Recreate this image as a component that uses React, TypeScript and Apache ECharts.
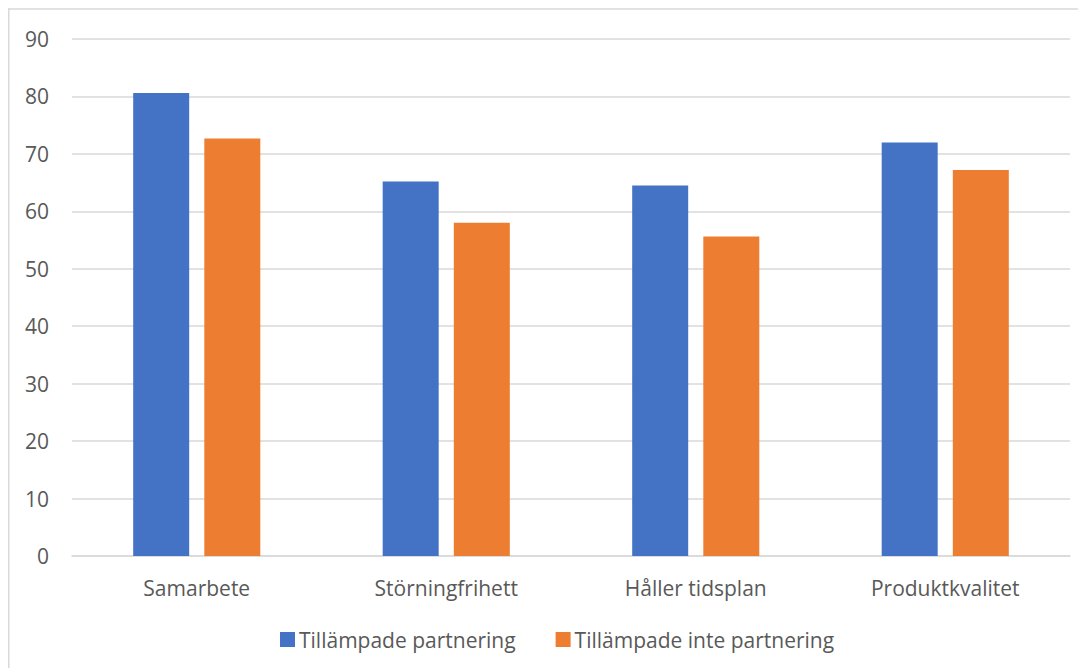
import React, { useEffect, useRef } from "react";
import * as echarts from "echarts";

const categories = ["Samarbete", "Störningfrihett", "Håller tidsplan", "Produktkvalitet"];
const seriesNames = ["Tillämpade partnering", "Tillämpade inte partnering"];
const withPartnering = [80.6, 65.2, 64.5, 72.0];
const withoutPartnering = [72.7, 58.0, 55.6, 67.2];
const yTicks = { min: 0, max: 90, interval: 10 };

const FONT = "'Open Sans', 'Noto Sans', sans-serif";
const TEXT = "#595959";
const GRID = "#D9D9D9";

export default function App() {
  const ref = useRef<HTMLDivElement>(null);

  useEffect(() => {
    if (!ref.current) return;
    const chart = echarts.init(ref.current, undefined, { renderer: "svg" });
    chart.setOption({
      animation: false,
      backgroundColor: "#ffffff",
      textStyle: { fontFamily: FONT },
      grid: { left: 64, right: 16, top: 31, bottom: 112, containLabel: false },
      graphic: [
        {
          type: "line",
          shape: { x1: 0, y1: 1, x2: 1078, y2: 1 },
          style: { stroke: GRID, lineWidth: 1.5 },
        },
        {
          type: "line",
          shape: { x1: 0.75, y1: 0, x2: 0.75, y2: 660 },
          style: { stroke: GRID, lineWidth: 1.5 },
        },
      ],
      legend: {
        left: 267,
        top: 616,
        icon: "rect",
        itemWidth: 15,
        itemHeight: 15,
        itemGap: 40,
        textStyle: { color: TEXT, fontSize: 21, fontFamily: FONT, padding: [0, 0, 0, -1] },
        data: seriesNames,
      },
      xAxis: {
        type: "category",
        data: categories,
        axisLine: { lineStyle: { color: GRID, width: 1.5 } },
        axisTick: { show: false },
        axisLabel: { color: TEXT, fontSize: 21, margin: 21, fontFamily: FONT },
      },
      yAxis: {
        type: "value",
        min: yTicks.min,
        max: yTicks.max,
        interval: yTicks.interval,
        axisLine: { show: false },
        axisTick: { show: false },
        axisLabel: { color: TEXT, fontSize: 21, margin: 23, fontFamily: FONT },
        splitLine: { lineStyle: { color: GRID, width: 1.5 } },
      },
      series: [
        {
          name: seriesNames[0],
          type: "bar",
          data: withPartnering,
          barWidth: 56,
          barGap: "27%",
          itemStyle: { color: "#4472C4" },
        },
        {
          name: seriesNames[1],
          type: "bar",
          data: withoutPartnering,
          barWidth: 56,
          itemStyle: { color: "#ED7D31" },
        },
      ],
    });
    return () => chart.dispose();
  }, []);

  return <div ref={ref} style={{ width: 1078, height: 660 }} />;
}
